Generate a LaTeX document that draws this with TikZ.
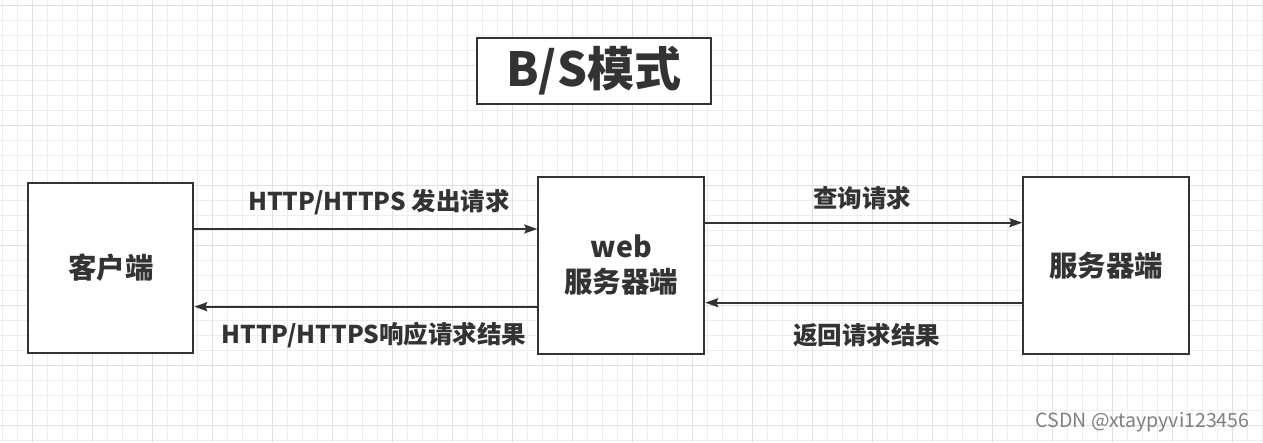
\documentclass[tikz,border=0pt]{standalone}
\usepackage{fontspec}
\setmainfont{Noto Sans CJK SC}
\usetikzlibrary{arrows.meta}
\definecolor{ink}{HTML}{333333}
\definecolor{gminor}{HTML}{EDEDED}
\definecolor{gmajor}{HTML}{E0E0E0}
\tikzset{
  minorline/.style={draw=gminor, line width=1pt},
  majorline/.style={draw=gmajor, line width=1pt},
  box/.style={draw=ink, line width=2pt, fill=white, inner sep=0pt, text=ink, font=\bfseries\fontsize{28.5}{35}\selectfont, align=center},
  arr/.style={draw=ink, line width=2pt, -{Stealth[length=13pt,width=9pt,inset=2pt]}},
  lbl/.style={text=ink, inner sep=0pt, font=\bfseries\fontsize{24.5}{28}\selectfont},
}
\begin{document}
\begin{tikzpicture}[x=1pt,y=-1pt]
\useasboundingbox (0,0) rectangle (1263,442);
\fill[white] (0,0) rectangle (1263,442);
\foreach \i in {0,...,84} \draw[minorline] ({2.7+15*\i},0) -- ({2.7+15*\i},442);
\foreach \j in {0,...,29} \draw[minorline] (0,{5+15*\j}) -- (1263,{5+15*\j});
\foreach \i in {0,...,20} \draw[majorline] ({32.7+60*\i},0) -- ({32.7+60*\i},442);
\foreach \j in {0,...,7} \draw[majorline] (0,{5+60*\j}) -- (1263,{5+60*\j});

\node[box, minimum width=234pt, minimum height=66pt, font=\bfseries\fontsize{47}{50}\selectfont] (title) at (593.7,70.8) {B/S模式};
\node[box, minimum width=165pt, minimum height=170.6pt] (client) at (110.8,268) {客户端};
\node[box, minimum width=166pt, minimum height=177pt] (web) at (621.3,265.2) {web\\服务器端};
\node[box, minimum width=166pt, minimum height=177pt] (server) at (1106.3,265.2) {服务器端};

\coordinate (ya) at (0,229);
\coordinate (yb) at (0,306.7);
\coordinate (yc) at (0,222.7);
\coordinate (yd) at (0,302.7);
\draw[arr] (client.east |- ya) -- (web.west |- ya);
\draw[arr] (web.west |- yb) -- (client.east |- yb);
\draw[arr] (web.east |- yc) -- (server.west |- yc);
\draw[arr] (server.west |- yd) -- (web.east |- yd);

\node[lbl] (la) at (379,202) {HTTP/HTTPS 发出请求};
\node[lbl] (lb) at (374,335) {HTTP/HTTPS响应请求结果};
\node[lbl] (lc) at (862,198) {查询请求};
\node[lbl] (ld) at (866.7,335) {返回请求结果};

\node[text=black!50, inner sep=0pt, font=\fontsize{19.5}{22}\selectfont] (wm) at (1142.5,422.7) {CSDN @xtaypyvi123456};
\end{tikzpicture}
\end{document}
